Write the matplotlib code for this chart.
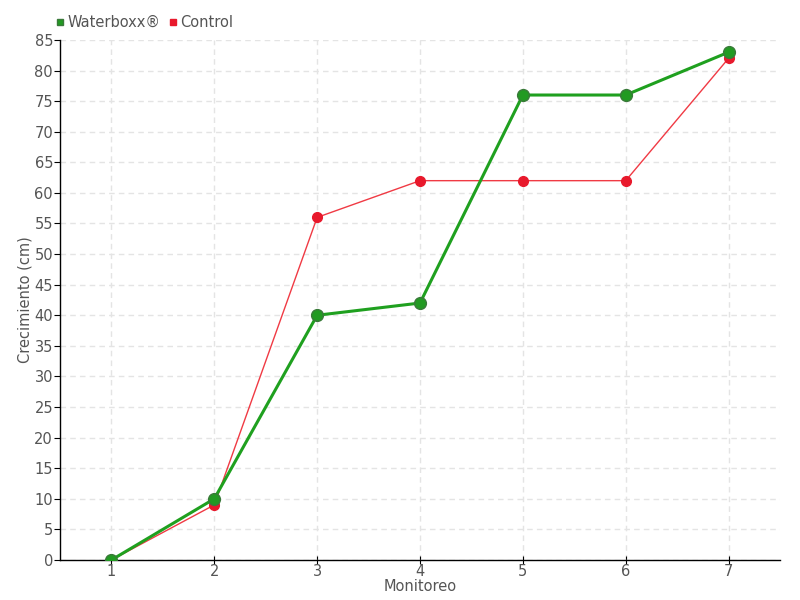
import matplotlib.pyplot as plt
import numpy as np

# Data
monitoreo = [1, 2, 3, 4, 5, 6, 7]
waterboxx = [0, 10, 40, 42, 76, 76, 83]
control = [0, 9, 56, 62, 62, 62, 82]

plt.rcParams['font.family'] = ['DejaVu Sans']

fig = plt.figure(figsize=(8, 6), dpi=100)
ax = fig.add_axes([0.075, 0.0667, 0.9, 0.8667])

ax.plot(monitoreo, control, color='#f03a44', lw=1, marker='o', ms=7,
        markerfacecolor='#e8192c', markeredgecolor='#e8192c', label='Control', zorder=3)
ax.plot(monitoreo, waterboxx, color='#1fa01f', lw=2.2, marker='o', ms=8.5,
        markerfacecolor='#229a22', markeredgecolor='#3a7a3a', label='Waterboxx®', zorder=4)

ax.set_xlim(0.5, 7.5)
ax.set_ylim(0, 85)
ax.set_xticks(monitoreo)
ax.set_yticks(np.arange(0, 90, 5))
ax.grid(True, color='#e4e4e4', linestyle=(0, (4, 3)), lw=1)
ax.set_axisbelow(True)

for s in ['top', 'right']:
    ax.spines[s].set_visible(False)
ax.spines['left'].set_linewidth(1)
ax.spines['bottom'].set_linewidth(1)
ax.tick_params(axis='both', colors='black', labelcolor='#555555', labelsize=10.5, length=4, pad=1)
ax.tick_params(axis='x', direction='inout', length=6, pad=0)

ax.set_xlabel('Monitoreo', color='#555555', fontsize=10.5)
ax.xaxis.set_label_coords(0.5, -0.036)
ax.set_ylabel('Crecimiento (cm)', color='#555555', fontsize=10.5)
ax.yaxis.set_label_coords(-0.038, 0.5)

h, l = ax.get_legend_handles_labels()
leg = fig.legend(h[::-1], l[::-1], loc='upper left', bbox_to_anchor=(0.053, 0.997), ncol=2,
                 frameon=False, fontsize=10.5, handlelength=0.6, handletextpad=0.2,
                 columnspacing=0.6, labelcolor='#555555')
for handle in leg.legend_handles:
    handle.set_marker('s')
    handle.set_markersize(5)
    handle.set_linestyle('')

fig.savefig('out.png', dpi=100)
